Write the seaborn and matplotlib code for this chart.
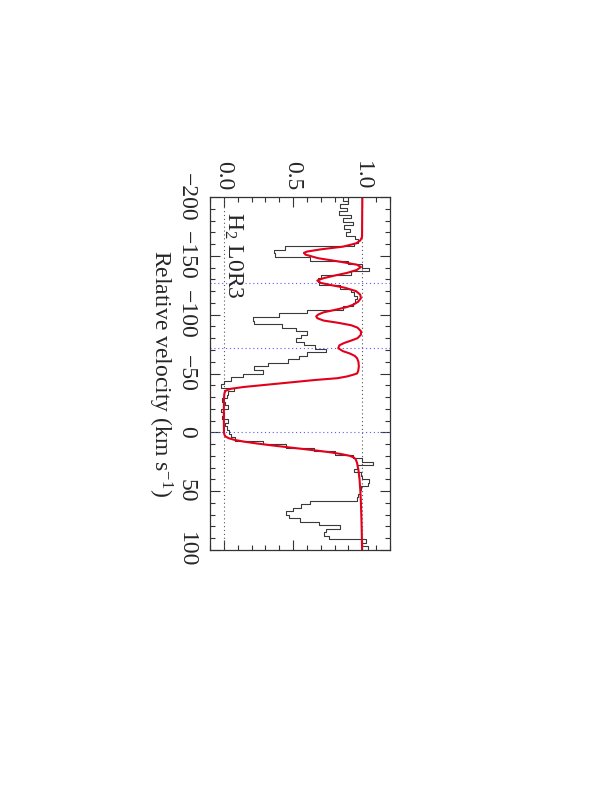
import numpy as np
import matplotlib
matplotlib.use("Agg")
import matplotlib.pyplot as plt
from matplotlib.ticker import MultipleLocator
import seaborn as sns

# observed spectrum, 3 km/s bins starting at -200 km/s
bin_width = 3.0
v_start = -200.0
flux_obs = [
    0.86, 0.90, 0.84, 0.89, 0.83, 0.92, 0.86, 0.93, 0.87, 0.91,
    0.88, 0.95, 0.97, 0.94, 0.44, 0.36, 0.37, 0.62, 0.90, 1.00,
    1.05, 0.92, 0.70, 0.68, 0.69, 0.84, 0.92, 0.94, 0.96, 0.95,
    0.93, 0.86, 0.60, 0.40, 0.21, 0.22, 0.42, 0.52, 0.60, 0.56,
    0.52, 0.58, 0.66, 0.74, 0.60, 0.54, 0.46, 0.32, 0.22, 0.28,
    0.14, 0.05, 0.00, -0.02, 0.07, 0.03, 0.02, -0.01, 0.01, 0.03,
    -0.02, 0.00, -0.01, 0.03, 0.01, 0.02, 0.04, 0.05, 0.08, 0.28,
    0.45, 0.65, 0.80, 0.93, 1.00, 1.08, 0.96, 0.94, 0.99, 1.00,
    1.05, 1.04, 0.99, 0.98, 0.97, 0.96, 0.62, 0.56, 0.50, 0.45,
    0.47, 0.55, 0.69, 0.84, 0.74, 0.72, 0.76, 1.03, 1.00, 1.04,
]

# fitted model
model_v = [-200, -166, -163, -160.6, -157.8, -155.5, -153.6, -152.5, -151, -148,
           -145, -142.5, -140.5, -138, -135.5, -133.5, -131, -129, -127, -125,
           -123, -120, -117, -114, -111, -108.5, -106.5, -104, -102, -100,
           -98.5, -97, -95, -93, -91, -89, -86, -83, -80, -78,
           -76, -74, -71.5, -69, -67, -65, -63, -60, -56, -52,
           -50, -48.8, -47.5, -46, -44.5, -43, -41.5, -40, -38.5, -37,
           -35.5, -34, -32, -28, -20, -10, 0, 2, 3.5, 5,
           6.5, 8, 9.5, 11, 12.5, 14, 15.5, 17, 18.5, 20,
           21.5, 23, 26, 32, 40, 50, 60, 75, 90, 100]
model_flux = [1.0, 0.998, 0.985, 0.955, 0.86, 0.70, 0.60, 0.578, 0.59, 0.68,
              0.84, 0.96, 0.99, 0.96, 0.89, 0.81, 0.72, 0.675, 0.70, 0.78,
              0.87, 0.955, 0.985, 0.99, 0.97, 0.935, 0.89, 0.80, 0.72, 0.68,
              0.667, 0.675, 0.72, 0.83, 0.92, 0.965, 0.99, 0.99, 0.965, 0.92,
              0.87, 0.835, 0.826, 0.86, 0.91, 0.945, 0.962, 0.972, 0.975, 0.97,
              0.962, 0.93, 0.89, 0.82, 0.66, 0.53, 0.40, 0.27, 0.14, 0.05,
              0.015, 0.006, 0.003, 0.001, 0.0, 0.0, 0.001, 0.004, 0.012, 0.035,
              0.08, 0.15, 0.24, 0.34, 0.45, 0.56, 0.67, 0.77, 0.85, 0.91,
              0.94, 0.953, 0.962, 0.972, 0.98, 0.986, 0.99, 0.994, 0.997, 0.998]

line_velocities = [-126.5, -71.5, 0.0]
flux_levels = [0.0, 1.0]

sns.set_theme(style="ticks")
plt.rcParams["font.family"] = ["Liberation Serif", "DejaVu Serif"]
plt.rcParams["mathtext.fontset"] = "custom"
plt.rcParams["mathtext.rm"] = "Liberation Serif"
plt.rcParams["mathtext.it"] = "Liberation Serif:italic"

fig = plt.figure(figsize=(6, 7.89), dpi=100)
ax = fig.add_axes([0.35, 1 - 550 / 789, 0.30, 353 / 789])

# step outline of the binned spectrum, velocity running down the page
edges = v_start + bin_width * np.arange(len(flux_obs) + 1)
step_v = np.repeat(edges, 2)[1:-1]
step_f = np.repeat(flux_obs, 2)

for lev in flux_levels:
    ax.axvline(lev, color="#555555", lw=0.8, ls=(0, (1, 2.5)), zorder=1)
for vl in line_velocities:
    ax.axhline(vl, color="#5a5aff", lw=0.8, ls=(0, (1, 2.5)), zorder=1)

sns.lineplot(x=step_f, y=step_v, sort=False, estimator=None,
             color="#3a3a3a", lw=0.8, ax=ax)
sns.lineplot(x=model_flux, y=model_v, sort=False, estimator=None,
             color="#e3001b", lw=1.5, ax=ax)

ax.set_xlim(-0.1, 1.2)
ax.set_ylim(100, -200)

ax.xaxis.set_major_locator(MultipleLocator(0.5))
ax.xaxis.set_minor_locator(MultipleLocator(0.1))
ax.yaxis.set_major_locator(MultipleLocator(50))
ax.yaxis.set_minor_locator(MultipleLocator(10))
ax.xaxis.set_major_formatter(matplotlib.ticker.FormatStrFormatter("%.1f"))

ax.tick_params(which="both", direction="in", top=True, bottom=True,
               left=True, right=True, width=0.8, color="#333333")
ax.tick_params(which="major", length=7.2)
ax.tick_params(which="minor", length=3.6)
ax.tick_params(axis="x", labeltop=True, labelbottom=False, labelsize=17,
               labelrotation=-90, pad=5)
ax.tick_params(axis="y", labelsize=17, labelrotation=-90, pad=9.5)
plt.setp(ax.get_yticklabels(), va="center")
for sp in ax.spines.values():
    sp.set_linewidth(0.9)
    sp.set_color("#333333")

ax.set_xlabel("")
ax.set_ylabel("")
ax.text(-0.275, 0.5, "Relative velocity (km s$^{-1}$)", transform=ax.transAxes,
        rotation=-90, ha="center", va="center", fontsize=17)
ax.text(0.094, 0.957, "H$_2$ L0R3", transform=ax.transAxes, rotation=-90,
        rotation_mode="anchor", ha="left", va="baseline", fontsize=17)

fig.savefig("out.png", dpi=100)
